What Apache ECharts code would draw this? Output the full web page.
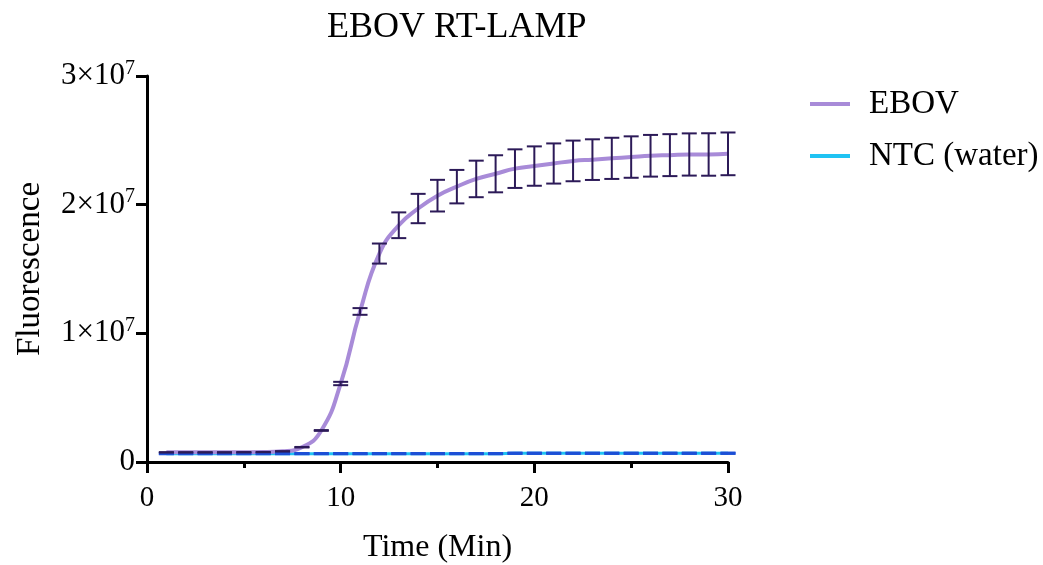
<!DOCTYPE html>
<html>
<head>
<meta charset="utf-8">
<script src="https://cdn.jsdelivr.net/npm/echarts@6/dist/echarts.min.js"></script>
<style>html,body{margin:0;padding:0;background:#fff}#c{width:1043px;height:565px}</style>
</head>
<body>
<div id="c"></div>
<script>
const timeMin = [1,2,3,4,5,6,7,8,9,10,11,12,13,14,15,16,17,18,19,20,21,22,23,24,25,26,27,28,29,30];
const ebovMean = [7.5e5,7.5e5,7.5e5,7.5e5,7.6e5,7.7e5,8.3e5,1.15e6,2.45e6,6.1e6,1.17e7,1.62e7,1.84e7,1.97e7,2.07e7,2.14e7,2.20e7,2.24e7,2.28e7,2.30e7,2.32e7,2.34e7,2.35e7,2.36e7,2.37e7,2.38e7,2.385e7,2.39e7,2.39e7,2.395e7];
const ebovSD = [1e4,1e4,1e4,1e4,1e4,1e4,1e4,2e4,3e4,1.3e5,2.6e5,7.8e5,1.0e6,1.14e6,1.23e6,1.3e6,1.42e6,1.44e6,1.5e6,1.53e6,1.56e6,1.58e6,1.58e6,1.6e6,1.61e6,1.62e6,1.63e6,1.64e6,1.65e6,1.66e6];
const ntcMean = [6.5e5,6.5e5,6.5e5,6.5e5,6.5e5,6.5e5,6.5e5,6.5e5,6.5e5,6.5e5,6.5e5,6.5e5,6.5e5,6.5e5,6.5e5,6.5e5,6.5e5,6.5e5,6.8e5,6.8e5,6.8e5,6.8e5,6.8e5,6.8e5,6.8e5,6.8e5,6.8e5,6.8e5,6.8e5,6.8e5];
const ntcSD = [1e4,1e4,1e4,1e4,1e4,1e4,1e4,1e4,1e4,1e4,1e4,1e4,1e4,1e4,1e4,1e4,1e4,1e4,1e4,1e4,1e4,1e4,1e4,1e4,1e4,1e4,1e4,1e4,1e4,1e4];
const yTicks = [0, 1e7, 2e7, 3e7];
const seriesNames = ['EBOV', 'NTC (water)'];

const FONT = "'Liberation Serif','Times New Roman',serif";

function errBar(color, lw, capHalf) {
  return function (params, api) {
    const x = api.value(0), y = api.value(1), e = api.value(2);
    const t = api.coord([x, y + e]);
    const b = api.coord([x, y - e]);
    const st = { stroke: color, lineWidth: lw };
    return {
      type: 'group',
      children: [
        { type: 'line', shape: { x1: t[0], y1: t[1], x2: b[0], y2: b[1] }, style: st },
        { type: 'line', shape: { x1: t[0] - capHalf, y1: t[1], x2: t[0] + capHalf, y2: t[1] }, style: st },
        { type: 'line', shape: { x1: b[0] - capHalf, y1: b[1], x2: b[0] + capHalf, y2: b[1] }, style: st }
      ]
    };
  };
}

const chart = echarts.init(document.getElementById('c'), null, { renderer: 'canvas' });
chart.setOption({
  animation: false,
  backgroundColor: '#fff',
  textStyle: { fontFamily: FONT, color: '#000' },
  title: {
    text: 'EBOV RT-LAMP',
    left: 322, top: 5,
    textStyle: { fontFamily: FONT, fontSize: 36, fontWeight: 'normal', color: '#000' }
  },
  legend: {
    data: [
      { name: seriesNames[0], icon: 'rect', itemStyle: { color: '#a88bd8' } },
      { name: seriesNames[1], icon: 'rect', itemStyle: { color: '#1fc3f3' } }
    ],
    orient: 'vertical',
    left: 810, top: 87, padding: 0,
    itemWidth: 40, itemHeight: 4, itemGap: 18,
    textStyle: { fontFamily: FONT, fontSize: 33, color: '#000', lineHeight: 34, padding: [0, 0, 0, 14] }
  },
  grid: { left: 147, right: 315, top: 76, bottom: 103, containLabel: false, outerBoundsMode: 'none' },
  xAxis: {
    type: 'value', min: 0, max: 30, interval: 10,
    name: 'Time (Min)', nameLocation: 'middle', nameGap: 70,
    nameTextStyle: { fontFamily: FONT, fontSize: 32, color: '#000' },
    axisLine: { lineStyle: { color: '#000', width: 3 } },
    axisTick: { show: true, length: 11, lineStyle: { color: '#000', width: 3 } },
    minorTick: { show: true, splitNumber: 2, length: 6, lineStyle: { color: '#000', width: 3 } },
    axisLabel: { fontFamily: FONT, fontSize: 29, color: '#000', margin: 22 },
    splitLine: { show: false }
  },
  yAxis: {
    type: 'value', min: 0, max: 3e7, interval: 1e7,
    name: 'Fluorescence', nameLocation: 'middle', nameGap: 100,
    nameTextStyle: { fontFamily: FONT, fontSize: 33, color: '#000' },
    axisLine: { show: true, lineStyle: { color: '#000', width: 3 } },
    axisTick: { show: true, length: 11, lineStyle: { color: '#000', width: 3 } },
    axisLabel: {
      margin: 12,
      formatter: function (v) {
        if (v === 0) return '{a|0}';
        return '{a|' + (v / 1e7) + '×10}{b|7}';
      },
      rich: {
        a: { fontFamily: FONT, fontSize: 31, color: '#000' },
        b: { fontFamily: FONT, fontSize: 20, color: '#000', padding: [0, 0, 15, 0] }
      }
    },
    splitLine: { show: false }
  },
  series: [
    {
      name: 'NTC (water)', type: 'line', smooth: true, symbol: 'none',
      data: timeMin.map((t, i) => [t, ntcMean[i]]),
      lineStyle: { color: '#1fc3f3', width: 3 }, itemStyle: { color: '#1fc3f3' }, z: 2
    },
    {
      name: 'EBOV', type: 'line', smooth: true, symbol: 'none',
      data: timeMin.map((t, i) => [t, ebovMean[i]]),
      lineStyle: { color: '#a88bd8', width: 4 }, itemStyle: { color: '#a88bd8' }, z: 3
    },
    {
      name: 'NTC SD', type: 'custom',
      renderItem: errBar('#1c4fd6', 3, 7.5),
      encode: { x: 0, y: 1 },
      data: timeMin.map((t, i) => [t, ntcMean[i], ntcSD[i]]), z: 4
    },
    {
      name: 'EBOV SD', type: 'custom',
      renderItem: errBar('#2c1a58', 2, 7.5),
      encode: { x: 0, y: 1 },
      data: timeMin.map((t, i) => [t, ebovMean[i], ebovSD[i]]), z: 5
    }
  ]
});
</script>
</body>
</html>
